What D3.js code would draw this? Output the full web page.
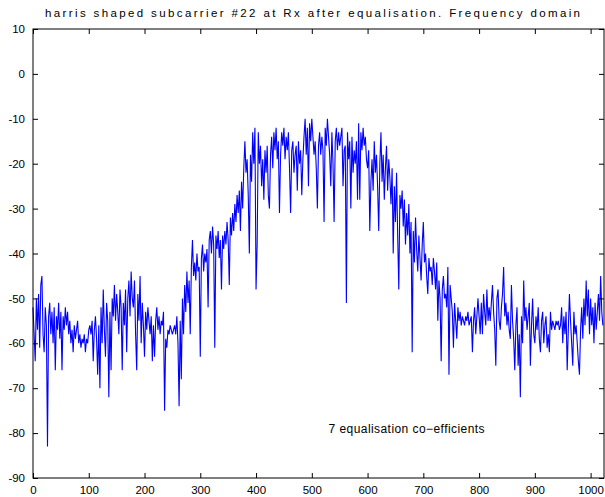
<!DOCTYPE html>
<html><head><meta charset="utf-8">
<script src="https://cdn.jsdelivr.net/npm/d3@7"></script>
<style>body{margin:0;background:#fff}svg{display:block}text{font-family:"Liberation Sans",Arial,sans-serif}</style>
</head><body>
<script>
const titleText = "harris shaped subcarrier #22 at Rx after equalisation. Frequency domain";
const noteText = "7 equalisation co\u2212efficients";
const noteX = 530, noteY = -79;
const xTicks = [0,100,200,300,400,500,600,700,800,900,1000];
const yTicks = [10,0,-10,-20,-30,-40,-50,-60,-70,-80,-90];
const sampleStep = 2;
const magnitudeDb = [
-52,-58,-64,-50,-57,-49,-61,-47,-45,-58,
-62,-52,-56,-83,-54,-51,-58,-53,-60,-52,
-66,-54,-57,-51,-59,-53,-66,-54,-57,-52,
-56,-53,-58,-55,-60,-57,-62,-56,-59,-57,
-55,-60,-58,-61,-59,-60,-58,-62,-59,-60,
-57,-56,-58,-55,-64,-57,-54,-59,-67,-56,
-70,-52,-60,-48,-57,-63,-51,-55,-72,-53,
-66,-50,-54,-47,-55,-49,-53,-58,-48,-52,
-66,-51,-56,-48,-62,-50,-46,-54,-44,-50,
-52,-46,-58,-66,-49,-55,-45,-60,-51,-56,
-63,-53,-57,-52,-55,-58,-54,-64,-56,-63,
-55,-52,-57,-54,-58,-55,-56,-53,-75,-59,
-61,-57,-58,-56,-57,-58,-57,-56,-58,-54,
-60,-74,-55,-68,-50,-58,-47,-53,-44,-51,
-46,-58,-43,-37,-45,-42,-46,-40,-44,-43,
-63,-41,-38,-44,-40,-42,-39,-52,-37,-35,
-40,-34,-38,-61,-36,-39,-35,-41,-37,-48,
-36,-39,-35,-38,-33,-37,-47,-32,-36,-31,
-35,-29,-33,-27,-31,-26,-35,-24,-30,-21,
-15,-22,-19,-27,-40,-18,-24,-13,-20,-12,
-48,-38,-13,-20,-16,-25,-19,-28,-17,-22,
-16,-27,-30,-18,-14,-21,-13,-17,-12,-19,
-15,-31,-18,-13,-16,-12,-19,-14,-17,-13,
-21,-31,-17,-15,-22,-18,-16,-26,-15,-20,
-17,-27,-19,-14,-10,-18,-12,-25,-11,-15,
-10,-14,-18,-15,-21,-30,-16,-13,-18,-14,
-17,-33,-12,-16,-10,-14,-18,-25,-13,-20,
-33,-15,-12,-17,-13,-16,-14,-12,-25,-17,
-16,-51,-13,-19,-15,-30,-14,-22,-17,-20,
-15,-28,-11,-28,-13,-17,-12,-16,-14,-19,
-21,-17,-35,-24,-19,-26,-15,-22,-18,-25,
-35,-20,-13,-24,-18,-28,-21,-16,-26,-19,
-23,-29,-21,-40,-25,-33,-22,-36,-48,-27,
-30,-26,-34,-28,-38,-31,-36,-29,-40,-33,
-62,-35,-42,-32,-39,-44,-36,-41,-46,-38,
-33,-42,-40,-45,-49,-41,-44,-43,-47,-41,
-44,-48,-42,-55,-46,-50,-64,-48,-45,-50,
-49,-52,-43,-67,-47,-50,-53,-61,-51,-55,
-59,-52,-55,-53,-56,-54,-55,-56,-54,-55,
-53,-56,-55,-54,-62,-55,-52,-58,-54,-50,
-54,-58,-51,-58,-49,-53,-56,-48,-55,-52,
-55,-51,-47,-53,-57,-65,-50,-48,-55,-57,
-52,-49,-43,-54,-51,-56,-53,-57,-59,-47,
-55,-59,-66,-56,-52,-65,-58,-72,-54,-60,
-46,-55,-52,-57,-54,-51,-65,-56,-50,-58,
-60,-54,-57,-52,-59,-62,-55,-53,-60,-56,
-54,-61,-58,-62,-53,-57,-55,-56,-57,-55,
-56,-55,-57,-56,-52,-60,-54,-58,-53,-66,
-57,-49,-55,-60,-65,-53,-58,-56,-60,-64,
-67,-57,-52,-59,-50,-56,-46,-54,-48,-58,
-50,-56,-52,-60,-51,-57,-53,-49,-55,-45,
-53,-56
];

const W = 605, H = 497;
const m = {left: 33, right: 1, top: 29, bottom: 19};
const svg = d3.select("body").append("svg").attr("width", W).attr("height", H);
const x = d3.scaleLinear().domain([0, 1024]).range([m.left, W - m.right]);
const y = d3.scaleLinear().domain([-90, 10]).range([H - m.bottom, m.top]);

const pts = magnitudeDb.map((v, i) => [i * sampleStep, v]);
svg.append("path").datum(pts)
  .attr("fill", "none").attr("stroke", "#0000ff").attr("stroke-width", 1.1)
  .attr("stroke-linejoin", "miter")
  .attr("d", d3.line().x(d => x(d[0])).y(d => y(d[1])));

const tl = 5;
const fmt = d => String(d);
const gB = svg.append("g").attr("transform", `translate(0,${H - m.bottom})`)
  .call(d3.axisBottom(x).tickValues(xTicks).tickFormat(fmt).tickSizeInner(-tl).tickSizeOuter(0).tickPadding(8));
const gT = svg.append("g").attr("transform", `translate(0,${m.top})`)
  .call(d3.axisTop(x).tickValues(xTicks).tickFormat("").tickSizeInner(-tl).tickSizeOuter(0));
const gL = svg.append("g").attr("transform", `translate(${m.left},0)`)
  .call(d3.axisLeft(y).tickValues(yTicks).tickFormat(fmt).tickSizeInner(-tl).tickSizeOuter(0).tickPadding(8));
const gR = svg.append("g").attr("transform", `translate(${W - m.right},0)`)
  .call(d3.axisRight(y).tickValues(yTicks).tickFormat("").tickSizeInner(-tl).tickSizeOuter(0));
[gB, gT, gL, gR].forEach(g => {
  g.select(".domain").remove();
  g.selectAll("line").attr("stroke", "#000");
  g.selectAll("text").attr("fill", "#000").style("font-size", "11.5px");
});
svg.append("rect").attr("x", m.left).attr("y", m.top)
  .attr("width", W - m.right - m.left).attr("height", H - m.bottom - m.top)
  .attr("fill", "none").attr("stroke", "#000").attr("stroke-width", 1);

svg.append("text").attr("x", 45).attr("y", 17)
  .attr("textLength", 535).attr("lengthAdjust", "spacing")
  .style("font-size", "11.5px").text(titleText);
svg.append("text").attr("x", x(noteX)).attr("y", y(noteY)).attr("dy", "0.35em")
  .attr("textLength", 156).attr("lengthAdjust", "spacing")
  .style("font-size", "12px").text(noteText);
</script>
</body></html>
